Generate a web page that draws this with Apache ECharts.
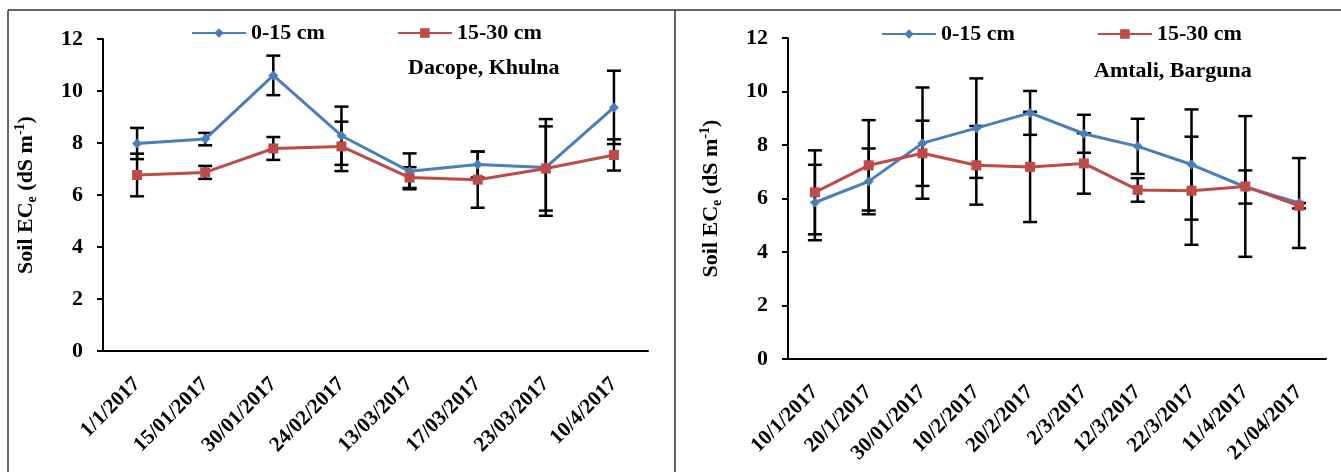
<!DOCTYPE html>
<html>
<head>
<meta charset="utf-8">
<script src="https://cdn.jsdelivr.net/npm/echarts@6/dist/echarts.min.js"></script>
<style>
  html, body { margin: 0; padding: 0; background: #fff; }
  #chart { width: 1341px; height: 472px; }
</style>
</head>
<body>
<div id="chart"></div>
<script>
// Dacope, Khulna
var leftDates = ['1/1/2017', '15/01/2017', '30/01/2017', '24/02/2017', '13/03/2017', '17/03/2017', '23/03/2017', '10/4/2017'];
var leftTop = [7.98, 8.15, 10.6, 8.28, 6.91, 7.17, 7.06, 9.37];
var leftTopErr = [0.6, 0.24, 0.76, 1.12, 0.69, 0.5, 1.86, 1.41];
var leftSub = [6.77, 6.87, 7.79, 7.87, 6.67, 6.59, 7.02, 7.54];
var leftSubErr = [0.82, 0.25, 0.44, 0.95, 0.4, 1.08, 1.62, 0.6];

// Amtali, Barguna
var rightDates = ['10/1/2017', '20/1/2017', '30/01/2017', '10/2/2017', '20/2/2017', '2/3/2017', '12/3/2017', '22/3/2017', '11/4/2017', '21/04/2017'];
var rightTop = [5.85, 6.64, 8.07, 8.63, 9.2, 8.42, 7.95, 7.27, 6.43, 5.83];
var rightTopErr = [1.41, 1.23, 2.08, 1.86, 0.82, 0.71, 1.03, 2.06, 0.62, 1.68];
var rightSub = [6.23, 7.24, 7.69, 7.24, 7.18, 7.31, 6.32, 6.29, 6.45, 5.73];
var rightSubErr = [1.57, 1.69, 1.22, 1.47, 2.06, 1.13, 0.44, 2.02, 2.63, 0.1];

var yTicks = { min: 0, max: 12, interval: 2 };
var seriesNames = ['0-15 cm', '15-30 cm'];

var FONT = 'Liberation Serif';
var BLUE = '#4a7ebb';
var RED = '#be4b48';

var chart = echarts.init(document.getElementById('chart'));

function errData(vals, errs) {
  return vals.map(function (v, i) { return [i, v, errs[i]]; });
}

// vertical error bar with caps
function renderErr(params, api) {
  var x = api.value(0), y = api.value(1), e = api.value(2);
  var hi = api.coord([x, y + e]);
  var lo = api.coord([x, y - e]);
  var w = 7;
  var st = { stroke: '#000', lineWidth: 2.5 };
  return {
    type: 'group',
    children: [
      { type: 'line', shape: { x1: hi[0], y1: hi[1], x2: lo[0], y2: lo[1] }, style: st },
      { type: 'line', shape: { x1: hi[0] - w, y1: hi[1], x2: hi[0] + w, y2: hi[1] }, style: st },
      { type: 'line', shape: { x1: lo[0] - w, y1: lo[1], x2: lo[0] + w, y2: lo[1] }, style: st }
    ]
  };
}

var nameRich = {
  a: { fontFamily: FONT, fontWeight: 'bold', fontSize: 22, color: '#000', lineHeight: 26 },
  sub: { fontFamily: FONT, fontWeight: 'bold', fontSize: 14, color: '#000', lineHeight: 26, verticalAlign: 'bottom', padding: [9, 0, 0, 0] },
  sup: { fontFamily: FONT, fontWeight: 'bold', fontSize: 14, color: '#000', lineHeight: 26, verticalAlign: 'top', padding: [0, 0, 9, 0] }
};

function xAxis(gridIndex, dates) {
  return {
    type: 'category',
    gridIndex: gridIndex,
    data: dates,
    boundaryGap: true,
    axisLine: { lineStyle: { color: '#000', width: 2 } },
    axisTick: { length: 7, lineStyle: { color: '#000', width: 2 } },
    axisLabel: {
      interval: 0, rotate: 45, margin: 30,
      fontFamily: FONT, fontWeight: 'bold', fontSize: 21, color: '#000'
    }
  };
}

function yAxis(gridIndex) {
  return {
    type: 'value',
    gridIndex: gridIndex,
    min: yTicks.min, max: yTicks.max, interval: yTicks.interval,
    name: '{a|Soil EC}{sub|e}{a| (dS m}{sup|-1}{a|)}',
    nameLocation: 'middle',
    nameRotate: 90,
    nameGap: 64,
    nameTextStyle: { rich: nameRich },
    splitLine: { show: false },
    axisLine: { show: true, lineStyle: { color: '#000', width: 2 } },
    axisTick: { show: true, length: 6, lineStyle: { color: '#000', width: 2 } },
    axisLabel: { margin: 20, fontFamily: FONT, fontWeight: 'bold', fontSize: 22, color: '#000' }
  };
}

function lineSeries(name, idx, vals, color, symbol, size) {
  return {
    name: name, type: 'line',
    xAxisIndex: idx, yAxisIndex: idx,
    data: vals,
    symbol: symbol, symbolSize: size,
    lineStyle: { color: color, width: 3 },
    itemStyle: { color: color },
    z: 3
  };
}

function errSeries(idx, vals, errs) {
  return {
    type: 'custom',
    xAxisIndex: idx, yAxisIndex: idx,
    data: errData(vals, errs),
    encode: { x: 0, y: 1 },
    renderItem: renderErr,
    silent: true,
    z: 2
  };
}

var legendText = { fontFamily: FONT, fontWeight: 'bold', fontSize: 22, color: '#000' };

chart.setOption({
  animation: false,
  backgroundColor: '#fff',
  grid: [
    { left: 103, top: 39, width: 545, height: 312 },
    { left: 788, top: 38, width: 538, height: 321 }
  ],
  legend: [
    { left: 186, top: 17, data: seriesNames, itemWidth: 54, itemHeight: 12, itemGap: 72, textStyle: legendText },
    { left: 876, top: 18, data: seriesNames, itemWidth: 54, itemHeight: 12, itemGap: 82, textStyle: legendText }
  ],
  xAxis: [xAxis(0, leftDates), xAxis(1, rightDates)],
  yAxis: [yAxis(0), yAxis(1)],
  graphic: [
    { type: 'line', shape: { x1: 8, y1: 10, x2: 1341, y2: 10 }, style: { stroke: '#333', lineWidth: 1.5 } },
    { type: 'line', shape: { x1: 8, y1: 10, x2: 8, y2: 472 }, style: { stroke: '#333', lineWidth: 1.5 } },
    { type: 'line', shape: { x1: 675, y1: 10, x2: 675, y2: 472 }, style: { stroke: '#333', lineWidth: 1.5 } },
    { type: 'text', left: 408, top: 57, style: { text: 'Dacope, Khulna', fontFamily: FONT, fontWeight: 'bold', fontSize: 22, fill: '#000' } },
    { type: 'text', left: 1094, top: 60, style: { text: 'Amtali, Barguna', fontFamily: FONT, fontWeight: 'bold', fontSize: 22, fill: '#000' } }
  ],
  series: [
    errSeries(0, leftTop, leftTopErr),
    errSeries(0, leftSub, leftSubErr),
    lineSeries(seriesNames[0], 0, leftTop, BLUE, 'diamond', 10),
    lineSeries(seriesNames[1], 0, leftSub, RED, 'rect', 10),
    errSeries(1, rightTop, rightTopErr),
    errSeries(1, rightSub, rightSubErr),
    lineSeries(seriesNames[0], 1, rightTop, BLUE, 'diamond', 10),
    lineSeries(seriesNames[1], 1, rightSub, RED, 'rect', 10)
  ]
});

window.addEventListener('resize', function () {
  chart.resize();
});
</script>
</body>
</html>
